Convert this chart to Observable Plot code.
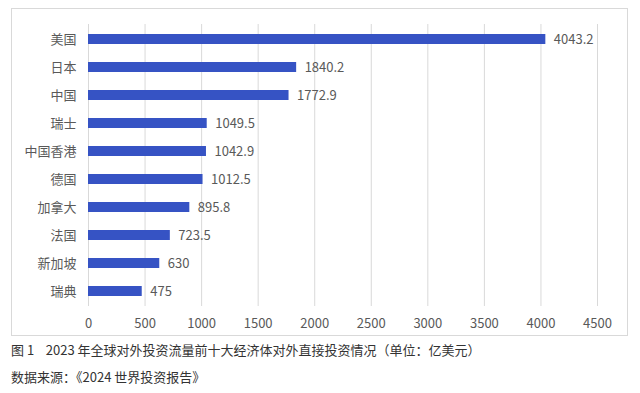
<!DOCTYPE html>
<html>
<head>
<meta charset="utf-8">
<script src="https://cdn.jsdelivr.net/npm/d3@7"></script>
<script src="https://cdn.jsdelivr.net/npm/@observablehq/plot@0.6"></script>
<style>
  html, body { margin: 0; padding: 0; background: #fff; width: 640px; height: 393px; overflow: hidden; }
  body { position: relative; font-family: "Noto Sans CJK SC", "Noto Sans", sans-serif; }
  #frame { position: absolute; left: 11px; top: 8px; width: 615px; height: 326px; border: 1px solid #d9d9d9; }
  #frame svg { display: block; }
  .cap { position: absolute; left: 11px; font-size: 13px; color: #333; white-space: nowrap; letter-spacing: 0; }
</style>
</head>
<body>
<div id="frame"></div>
<div class="cap" style="top:340px">图 1&nbsp;&nbsp;&nbsp;&nbsp;2023 年全球对外投资流量前十大经济体对外直接投资情况（单位：亿美元）</div>
<div class="cap" style="top:367px">数据来源：《2024 世界投资报告》</div>
<script>
const categories = ["美国", "日本", "中国", "瑞士", "中国香港", "德国", "加拿大", "法国", "新加坡", "瑞典"];
const values = [4043.2, 1840.2, 1772.9, 1049.5, 1042.9, 1012.5, 895.8, 723.5, 630, 475];
const xTicks = [0, 500, 1000, 1500, 2000, 2500, 3000, 3500, 4000, 4500];

const data = categories.map((c, i) => ({category: c, value: values[i]}));

const chart = Plot.plot({
  width: 615,
  height: 326,
  marginLeft: 76,
  marginRight: 30,
  marginTop: 15,
  marginBottom: 29,
  style: {fontFamily: "'Noto Sans CJK SC', 'Noto Sans', sans-serif", fontSize: "13px", color: "#595959", background: "#fff"},
  x: {domain: [0, 4500], ticks: xTicks, label: null},
  y: {domain: categories, paddingInner: 0.66, paddingOuter: 0.36, label: null},
  marks: [
    Plot.gridX(xTicks, {stroke: "#d9d9d9", strokeOpacity: 1, strokeWidth: 1}),
    Plot.barX(data, {y: "category", x: "value", fill: "#3653c4"}),
    Plot.text(data, {y: "category", x: "value", text: d => String(d.value), textAnchor: "start", dx: 8, fill: "#595959", fontSize: 13}),
    Plot.axisX({ticks: xTicks, tickFormat: d => String(d), tickSize: 0, tickPadding: 12, fontSize: 13, fill: "#595959", label: null}),
    Plot.axisY({tickSize: 0, tickPadding: 12, fontSize: 13, fill: "#595959", label: null})
  ]
});
document.getElementById("frame").appendChild(chart);
</script>
</body>
</html>
